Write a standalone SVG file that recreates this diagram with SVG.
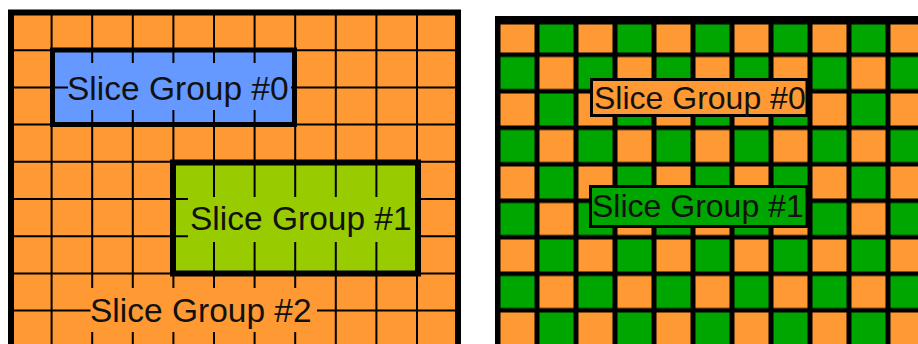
<svg xmlns="http://www.w3.org/2000/svg" width="918" height="344" viewBox="0 0 918 344">
  <style>
    .lbl { font-family: "Liberation Sans", Arial, sans-serif; fill: #111; }
    .big { font-size: 33.5px; }
    .mid { font-size: 32px; }
    .grid { stroke: #000; stroke-width: 2; fill: none; }
    .border { fill: none; stroke: #000; }
  </style>
  <defs>
    <pattern id="checker" patternUnits="userSpaceOnUse" x="498.5" y="20.5" width="78" height="73">
      <rect x="0" y="0" width="78" height="73" fill="#000"/>
      <rect x="2" y="0" width="34" height="32" fill="#FF9933"/>
      <rect x="41" y="0" width="34" height="32" fill="#00A600"/>
      <rect x="2" y="36.5" width="34" height="32" fill="#00A600"/>
      <rect x="41" y="36.5" width="34" height="32" fill="#FF9933"/>
    </pattern>
  </defs>
  <rect width="918" height="344" fill="#fff"/>

  <!-- Left panel -->
  <g id="left-panel">
    <rect x="11" y="12.5" width="447" height="340" fill="#FF9933"/>
    <path class="grid" d="M51.6 12V344M92.2 12V344M132.8 12V344M173.4 12V344M214 12V344M254.6 12V344M295.2 12V344M335.8 12V344M376.4 12V344M417 12V344
      M11 50.2H458M11 87.4H458M11 124.6H458M11 161.8H458M11 199H458M11 236.2H458M11 273.4H458M11 310.6H458"/>
  </g>

  <g id="sg0-left">
    <rect x="51.6" y="50.2" width="243.6" height="74.4" fill="#6699FF"/>
    <path class="grid" d="M92.2 50V125M132.8 50V125M173.4 50V125M214 50V125M254.6 50V125M51.6 87.4H295"/>
    <rect x="68" y="63" width="223" height="47" fill="#6699FF"/>
    <rect class="border" x="52.5" y="50" width="242" height="74.5" stroke-width="5"/>
    <text class="lbl big" x="67" y="99.5">Slice Group #0</text>
  </g>

  <g id="sg1-left">
    <rect x="173.4" y="161.8" width="243.6" height="111.6" fill="#99CC00"/>
    <path class="grid" d="M214 162V274M254.6 162V274M295.2 162V274M335.8 162V274M376.4 162V274M173.4 199H417M173.4 236.2H417"/>
    <rect x="188" y="197" width="227" height="45" fill="#99CC00"/>
    <rect class="border" x="173" y="162.5" width="245" height="111" stroke-width="6"/>
    <text class="lbl big" x="190" y="230">Slice Group #1</text>
  </g>

  <g id="sg2-left">
    <rect x="90.5" y="288" width="226.5" height="44" fill="#FF9933"/>
    <text class="lbl big" x="90" y="322">Slice Group #2</text>
  </g>

  <rect class="border" x="11" y="12.5" width="447" height="400" stroke-width="6"/>

  <!-- Right panel -->
  <g id="right-panel">
    <rect x="495" y="16" width="423" height="328" fill="#000"/>
    <rect x="500" y="24.5" width="418" height="319.5" fill="url(#checker)"/>
  </g>

  <g id="sg0-right">
    <rect x="591.5" y="79.5" width="215.5" height="36" fill="#FF9933" stroke="#000" stroke-width="3"/>
    <text class="lbl mid" x="594" y="109">Slice Group #0</text>
  </g>

  <g id="sg1-right">
    <rect x="590.5" y="186.5" width="216.5" height="40" fill="#00A600" stroke="#000" stroke-width="3"/>
    <text class="lbl mid" x="592" y="217">Slice Group #1</text>
  </g>

  <g id="connectors"/>
</svg>
